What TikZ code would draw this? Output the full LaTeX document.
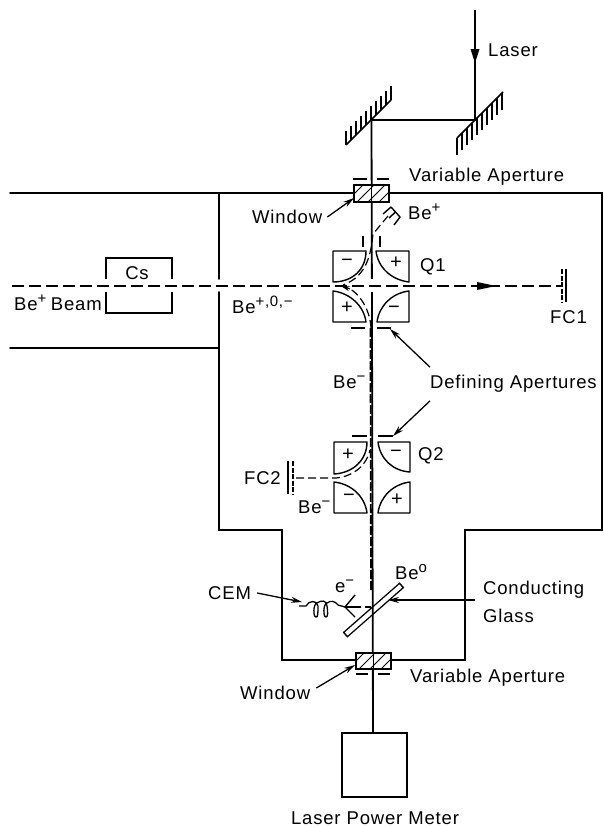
\documentclass[tikz,border=0pt]{standalone}
\usepackage{fontspec}
\setmainfont[LetterSpace=4.5]{Liberation Sans}
\usetikzlibrary{arrows.meta,patterns}
\newcommand{\sups}[1]{$^{\mbox{\fontsize{15}{15}\selectfont #1}}$}
\tikzset{
 wall/.style={line width=1.7pt,line cap=round},
 thin wall/.style={line width=1.4pt},
 beam/.style={line width=1.8pt},
 ionbeam/.style={line width=1.6pt,dash pattern=on 12pt off 5pt},
 ion/.style={line width=1.2pt,dash pattern=on 8pt off 4pt},
 lead/.style={line width=1.3pt,-{Stealth[length=11pt,width=6pt]}},
 lbl/.style={font=\fontsize{18.5}{20}\selectfont,inner sep=0pt},
 sign/.style={font=\fontsize{20}{20}\selectfont,inner sep=0pt},
 aper/.style={line width=1.3pt},
 hatchbox/.style={draw,line width=1.6pt},
}
\begin{document}
\begin{tikzpicture}[x=1pt,y=-1pt]
\useasboundingbox (0,0) rectangle (604,827);
% chamber
\draw[wall] (10,193) -- (354,193);
\draw[wall] (389,193) -- (602,193) -- (602,530) -- (465,530) -- (465,660) -- (391,660);
\draw[wall] (356,660) -- (282,660) -- (282,530) -- (219,530) -- (219,292);
\draw[wall] (219,279) -- (219,193);
\draw[wall] (10,348) -- (219,348);
% Cs box
\node[lbl] (cs) at (137,273) {Cs};
\draw[thin wall] (106,279) -- (106,258) -- (172,258) -- (172,279);
\draw[thin wall] (106,292) -- (106,313) -- (172,313) -- (172,292);
% glass plate
\draw[line width=7pt] (345,635) -- (402,585);
\draw[line width=4.2pt,white] (346.2,634) -- (400.8,586);
% mirrors
\draw[line width=1.5pt] (346,145) -- (391,100);
\foreach \t in {0,...,9}{\draw[line width=1.2pt] ({346+\t*5},{145-\t*5}) -- ++(0,-14);}
\draw[line width=1.5pt] (457,138) -- (503,92);
\foreach \t in {0,...,9}{\draw[line width=1.2pt] ({457+\t*5},{138-\t*5}) -- ++(0,17);}
% laser path
\coordinate (start) at (475,10);
\coordinate (m2) at (475,120);
\coordinate (m1) at (371.5,120);
\coordinate (meter) at (373,733);
\draw[beam] (start) -- (m2) -- (m1) -- (372,328) -- (meter);
\fill (470.5,49) -- (479.5,49) -- (475,63) -- cycle;
% windows
\node[hatchbox,fill=white,minimum width=35pt,minimum height=17pt,inner sep=0pt] (wintop) at (371.5,193.5) {};
\node[hatchbox,fill=white,minimum width=35pt,minimum height=16pt,inner sep=0pt] (winbot) at (373.5,661) {};
\begin{scope}
\clip (354,185) rectangle (389,202);
\foreach \a in {0,1,2,3,4}{\draw[line width=1pt] ({346+\a*11},202) -- ++(17,-17);}
\end{scope}
\begin{scope}
\clip (356,653) rectangle (391,669);
\foreach \a in {0,1,2,3,4}{\draw[line width=1pt] ({348+\a*11},669) -- ++(16,-16);}
\end{scope}
\draw[line width=1.8pt] (371.5,185) -- (371.5,202);
\draw[line width=1.8pt] (373.5,653) -- (373.5,669);
% variable apertures
\draw[aper] (353,179) -- (367,179) (377,179) -- (389,179);
\draw[aper] (356,674) -- (368,674) (378,674) -- (390,674);
% power meter
\node[draw,line width=1.5pt,minimum width=65pt,minimum height=64pt,inner sep=0pt] (pm) at (374.5,765) {};
% main ion beam
\draw[white,line width=4pt] (372,279) -- (372,292);
\draw[ionbeam] (12,286) -- (562,286);
\fill (477,282) -- (496,286) -- (477,290) -- cycle;
% FC1
\draw[line width=1.3pt] (566,269) -- (566,302);
\draw[line width=1.3pt,dash pattern=on 5pt off 1.5pt] (562,269) -- (562,302);
% Q1
\draw[thin wall,line join=round] (366,251) -- (333,251) -- (333,282) .. controls (352,282) and (366,270) .. cycle;
\draw[thin wall,line join=round] (376,251) -- (409,251) -- (409,282) .. controls (392,280) and (378,268) .. cycle;
\draw[thin wall,line join=round] (333,291) -- (333,322) -- (366,322) .. controls (364,306) and (350,293) .. cycle;
\draw[thin wall,line join=round] (409,291) -- (409,322) -- (377,322) .. controls (379,306) and (392,293) .. cycle;
\node[sign] (q1a) at (347,263) {−};
\node[sign] (q1b) at (396,263) {+};
\node[sign] (q1c) at (347,308) {+};
\node[sign] (q1d) at (394,310) {−};
\draw[aper] (363,236) -- (363,247) (380,236) -- (380,247);
\draw[aper] (351,328) -- (365,328) (377,328) -- (391,328);
% Q1 deflected ions
\coordinate (cupin) at (388,216);
\coordinate (bendtip) at (341,286);
\draw[ion] (cupin) -- (373,234) .. controls (371,252) and (368,276) .. (343,285);
\draw[ion] (371,328) .. controls (370,308) and (358,293) .. (350,289);
\draw[line width=1pt,-{Stealth[length=9pt,width=5pt]}] (350,289) -- (bendtip);
% cup
\draw[line width=1.4pt,line join=round] (383,214) -- (391,207) -- (400,217) -- (394,225);
\draw[line width=1.4pt] (395.5,212) -- (389,218);
% thick neg beam
\draw[line width=1.8pt,dash pattern=on 9pt off 2pt] (370.5,328) -- (371,590);
% Q2
\draw[thin wall,line join=round] (367,442) -- (334,442) -- (334,474) .. controls (353,473) and (367,460) .. cycle;
\draw[thin wall,line join=round] (378,442) -- (410,442) -- (410,472) .. controls (393,471) and (380,459) .. cycle;
\draw[thin wall,line join=round] (334,482) -- (334,513) -- (367,513) .. controls (365,497) and (352,484) .. cycle;
\draw[thin wall,line join=round] (410,482) -- (410,513) -- (378,513) .. controls (380,497) and (393,484) .. cycle;
\node[sign] (q2a) at (348,455) {+};
\node[sign] (q2b) at (396,454) {−};
\node[sign] (q2c) at (349,498) {−};
\node[sign] (q2d) at (397,500) {+};
\draw[aper] (352,436) -- (367,436) (378,436) -- (393,436);
% FC2
\draw[line width=1.3pt] (288,461) -- (288,494);
\draw[line width=1.3pt,dash pattern=on 5pt off 1.5pt] (293,461) -- (293,494);
\draw[ion] (296,478) -- (336,478) .. controls (350,477) and (366,468) .. (370,450);
% CEM
\draw[line width=1.3pt,line join=round] (299,606) -- (306,606) .. controls (309,600) and (317,600) .. (318,606)
 .. controls (318,612) and (318,618) .. (316,617) .. controls (313,617) and (313,604) .. (317,603)
 .. controls (321,600) and (327,600) .. (327,606) .. controls (328,612) and (328,617) .. (326,617)
 .. controls (323,617) and (323,604) .. (327,603) .. controls (331,600) and (335,601) .. (338,605) -- (345,607);
\draw[line width=1.4pt] (355,595) -- (345,607) -- (355,617);
\draw[ion,dash pattern=on 6pt off 4pt] (345,607) -- (373,607);
\draw[line width=1.2pt] (345,607) -- (358,607);
% labels
\node[lbl,anchor=west] (laser) at (488,50) {Laser};
\node[lbl,anchor=west] (vatop) at (409,177) {Variable Aperture};
\node[lbl,anchor=west] (wtop) at (252,217) {Window};
\node[lbl,anchor=base west] (beplus) at (408,219) {Be\sups{+}};
\node[lbl,anchor=west] (q1) at (420,267) {Q1};
\node[lbl,anchor=west] (fc1) at (550,317) {FC1};
\node[lbl,anchor=base west] (bebeam) at (14,310) {Be\sups{+}\hspace{-2pt} Beam};
\node[lbl,anchor=base west] (bemix) at (232,313) {Be\sups{+,0,−}};
\node[lbl,anchor=base west] (beminus) at (333,388) {Be\sups{−}};
\node[lbl,anchor=west] (defap) at (430,384) {Defining Apertures};
\node[lbl,anchor=west] (q2) at (418,456) {Q2};
\node[lbl,anchor=east] (fc2) at (281,478) {FC2};
\node[lbl,anchor=base west] (beminusb) at (298,513) {Be\sups{−}};
\node[lbl,anchor=base west] (ecem) at (335,592) {e\sups{−}};
\node[lbl,anchor=base west] (bezero) at (395,579) {Be\sups{o}};
\node[lbl,anchor=west] (cem) at (208,593) {CEM};
\node[lbl,anchor=west] (cond) at (483,590) {Conducting};
\node[lbl,anchor=west] (glass) at (483,616) {Glass};
\node[lbl,anchor=west] (vabot) at (410,678) {Variable Aperture};
\node[lbl,anchor=west] (wbot) at (240,693) {Window};
\node[lbl,anchor=base] (lpm) at (375,824) {Laser Power Meter};
% leader arrows
\coordinate (wta) at (354,198);
\coordinate (wba) at (355,665);
\coordinate (a1) at (390,329);
\coordinate (a2) at (393,436);
\coordinate (cema) at (302,602);
\coordinate (gla) at (388,600);
\draw[lead] (wtop.east)+(5,0) -- (wta);
\draw[lead] (wbot.east)+(6,-5) -- (wba);
\draw[lead] (defap.north west)+(0,-8) -- (a1);
\draw[lead] (defap.south west)+(0,8) -- (a2);
\draw[lead] (cem.east)+(6,0) -- (cema);
\coordinate (gls) at (475,600);
\draw[lead] (gls) -- (gla);
\end{tikzpicture}
\end{document}
